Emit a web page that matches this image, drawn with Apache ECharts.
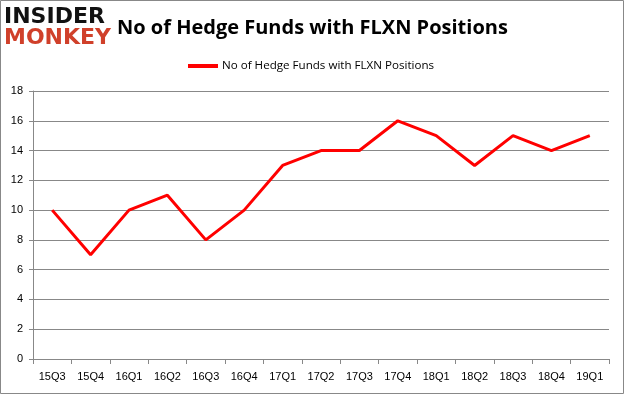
<!DOCTYPE html>
<html><head><meta charset="utf-8">
<script src="https://cdn.jsdelivr.net/npm/echarts@6/dist/echarts.min.js"></script>
<style>html,body{margin:0;padding:0;background:#fff}#c{width:625px;height:395px}</style>
</head><body><div id="c"></div>
<script>
const categories = ['15Q3','15Q4','16Q1','16Q2','16Q3','16Q4','17Q1','17Q2','17Q3','17Q4','18Q1','18Q2','18Q3','18Q4','19Q1'];
const values = [10,7,10,11,8,10,13,14,14,16,15,13,15,14,15];
const seriesName = 'No of Hedge Funds with FLXN Positions';
const yTicks = [0,2,4,6,8,10,12,14,16,18];

const chart = echarts.init(document.getElementById('c'), null, {renderer:'canvas'});
chart.setOption({
  animation:false,
  backgroundColor:'#fff',
  title:{text:'No of Hedge Funds with FLXN Positions', left:112, top:13,
    textStyle:{fontFamily:'Open Sans, Liberation Sans, sans-serif', fontSize:20, fontWeight:'bold', color:'#000'}},
  legend:{top:55, left:183, itemWidth:30, itemHeight:4, itemGap:4, icon:'rect',
    textStyle:{fontFamily:'Open Sans, Liberation Sans, sans-serif', fontSize:11.6, color:'#000', padding:[0,0,0,-1]},
    data:[seriesName]},
  grid:{left:33, right:16, top:91, bottom:36, containLabel:false},
  xAxis:{type:'category', data:categories, boundaryGap:true,
    axisLine:{lineStyle:{color:'#888'}},
    axisTick:{show:true, alignWithLabel:false, lineStyle:{color:'#888'}},
    axisLabel:{margin:12, fontFamily:'Liberation Sans, sans-serif', fontSize:11, color:'#000'}},
  yAxis:{type:'value', min:yTicks[0], max:yTicks[yTicks.length-1], interval:2,
    axisLine:{show:true, lineStyle:{color:'#888'}},
    axisTick:{show:true, lineStyle:{color:'#888'}, length:4},
    splitLine:{lineStyle:{color:'#888'}},
    axisLabel:{margin:10, fontFamily:'Liberation Sans, sans-serif', fontSize:11, color:'#000'}},
  series:[{name:seriesName, type:'line', data:values, symbol:'none',
    lineStyle:{color:'#ff0000', width:3}, itemStyle:{color:'#ff0000'}}],
  graphic:[
    {type:'rect', shape:{x:0.5,y:0.5,width:623,height:393}, style:{fill:'none', stroke:'#888', lineWidth:1}},
    {type:'text', left:4, top:6, style:{text:'INSIDER', font:'bold 22px "DejaVu Sans", sans-serif', fill:'#111'}},
    {type:'text', left:4, top:27, style:{text:'MONKEY', font:'bold 22px "DejaVu Sans", sans-serif', fill:'#d0402a'}}
  ]
});
</script></body></html>
